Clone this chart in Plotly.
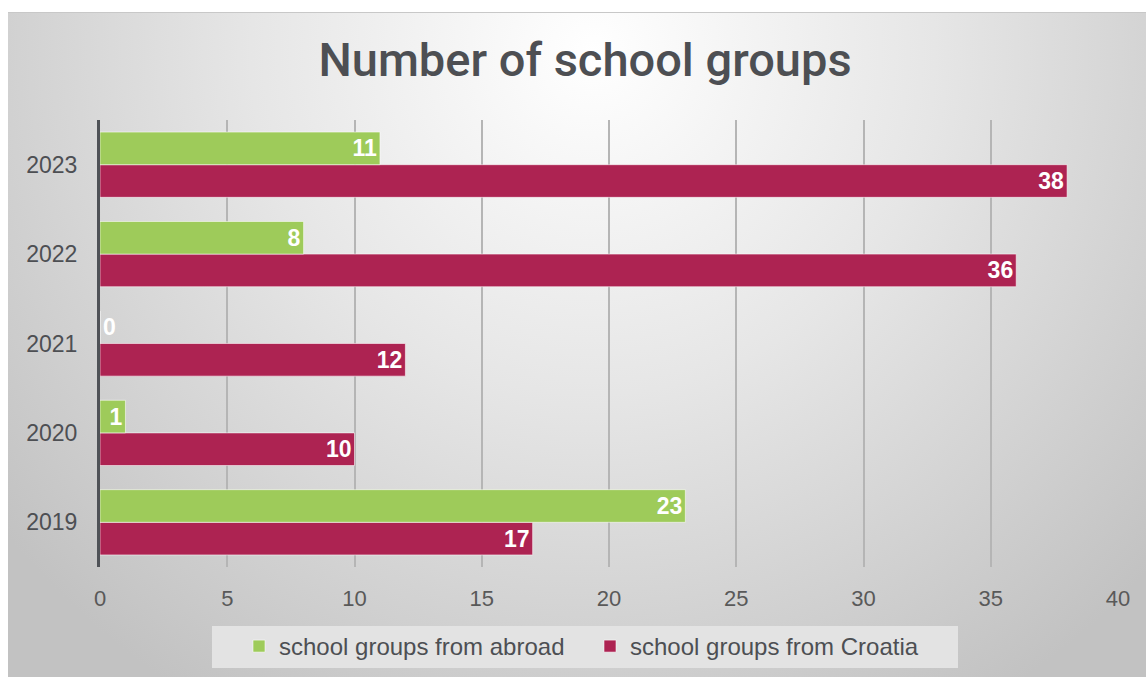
import base64
import plotly.graph_objects as go

years = ["2019", "2020", "2021", "2022", "2023"]
abroad = [23, 1, 0, 8, 11]
croatia = [17, 10, 12, 36, 38]
series_names = ["school groups from abroad", "school groups from Croatia"]
x_ticks = [0, 5, 10, 15, 20, 25, 30, 35, 40]

GREEN = "#9ecb5a"
RED = "#ad2352"
TXT = "#4d4f53"
FONT = "Liberation Sans, Arial, sans-serif"

W, H = 1146, 677
L, R, T, B = 100, 28, 120, 110
pw, ph = W - L - R, H - T - B


def px_x(p):
    return (p - L) / pw


def px_y(p):
    return (H - B - p) / ph


# radial gradient background as svg
svg = f'''<svg xmlns="http://www.w3.org/2000/svg" width="1138" height="665">
<defs><radialGradient id="g" gradientUnits="userSpaceOnUse" cx="585" cy="40" r="760">
<stop offset="0" stop-color="#ffffff"/><stop offset="0.45" stop-color="#e6e6e6"/><stop offset="1" stop-color="#c2c2c2"/>
</radialGradient></defs>
<rect width="1138" height="665" fill="url(#g)"/>
<line x1="0" y1="0.5" x2="1138" y2="0.5" stroke="#c8c8c8" stroke-width="1"/>
</svg>'''
src = "data:image/svg+xml;base64," + base64.b64encode(svg.encode()).decode()

fig = go.Figure()
fig.add_trace(go.Bar(
    y=years, x=croatia, orientation="h", name=series_names[1],
    marker=dict(color=RED, line=dict(color="rgba(255,255,255,0.55)", width=1)),
    text=[str(v) for v in croatia], textposition="inside", insidetextanchor="end",
    textfont=dict(color="white", size=23, family=FONT, weight="bold"),
    legendrank=2,
))
abroad_pos = ["outside" if v == 0 else "inside" for v in abroad]
fig.add_trace(go.Bar(
    y=years, x=abroad, orientation="h", name=series_names[0],
    marker=dict(color=GREEN, line=dict(color="rgba(255,255,255,0.55)", width=1)),
    text=[str(v) for v in abroad], textposition=abroad_pos, insidetextanchor="end",
    textfont=dict(color="white", size=23, family=FONT, weight="bold"),
    cliponaxis=False, legendrank=1,
))

fig.update_layout(
    width=W, height=H,
    margin=dict(l=L, r=R, t=T, b=B, autoexpand=False),
    paper_bgcolor="white", plot_bgcolor="rgba(0,0,0,0)",
    barmode="group", bargap=0.27, bargroupgap=0,
    title=dict(text="Number of school groups", x=585 / W, xanchor="center",
               y=1 - 60 / H, yanchor="middle",
               font=dict(size=47, color=TXT, family="Roboto, Liberation Sans, sans-serif", weight=500)),
    font=dict(family=FONT, color=TXT),
    xaxis=dict(range=[0, 40], tickvals=x_ticks, showgrid=True, gridcolor="#b5b5b5",
               gridwidth=1.5, zeroline=False, showline=False,
               tickfont=dict(size=22, color="#595959"), ticklabelstandoff=16),
    yaxis=dict(showline=True, linecolor="#4f5257", linewidth=3, showgrid=False,
               tickfont=dict(size=23, color=TXT), ticklabelstandoff=15,
               categoryorder="array", categoryarray=years),
    legend=dict(orientation="h", x=px_x(239), xanchor="left",
                y=px_y(624), yanchor="top",
                bgcolor="rgba(0,0,0,0)", font=dict(size=24, color=TXT),
                entrywidth=306, itemwidth=30),
    shapes=[dict(type="rect", xref="paper", yref="paper",
                 x0=px_x(212), x1=px_x(958), y0=px_y(626), y1=px_y(668),
                 fillcolor="#e3e3e3", line=dict(width=0), layer="below")],
    images=[dict(source=src, xref="paper", yref="paper",
                 x=px_x(8), y=px_y(12),
                 sizex=1138 / pw, sizey=665 / ph,
                 sizing="stretch", layer="below", xanchor="left", yanchor="top")],
    showlegend=True,
)

fig.write_html("out.html")
